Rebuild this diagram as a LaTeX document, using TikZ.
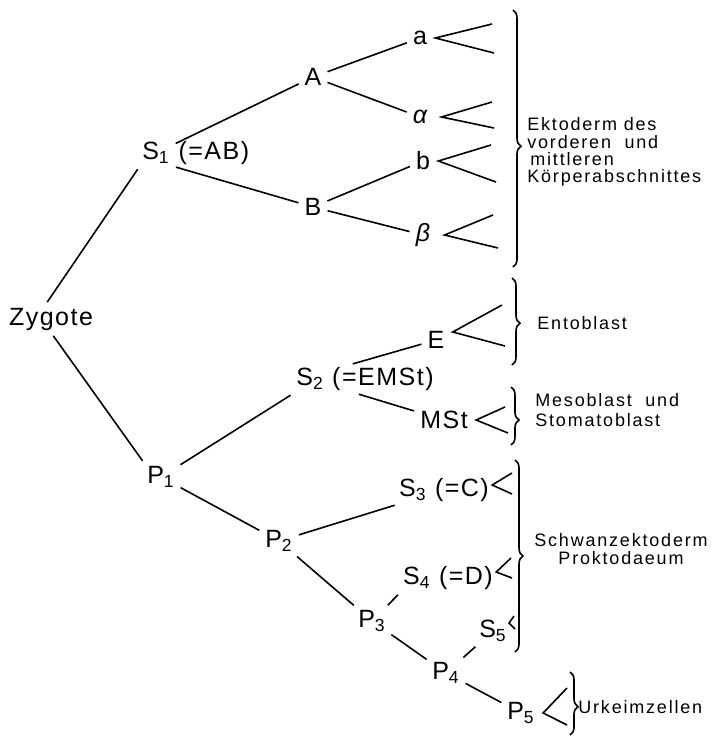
\documentclass[tikz,border=0pt]{standalone}
\usepackage{fontspec}
\usepackage{tikz}
\usetikzlibrary{decorations.pathreplacing}
\newfontfamily\cellfont[LetterSpace=6]{Liberation Sans}
\newfontfamily\notefont[LetterSpace=10]{Liberation Sans}

\begin{document}
\begin{tikzpicture}[x=0.5pt, y=-0.5pt,
	cell/.style={inner sep=1pt, font=\cellfont\fontsize{12.5}{14}\selectfont},
	note/.style={anchor=west, align=left, inner sep=0pt, font=\notefont\fontsize{9}{8.6}\selectfont},
	link/.style={line width=0.8pt, shorten <=2pt, shorten >=2pt},
	fan/.style={line width=0.8pt},
	bracket/.style={line width=0.8pt, decorate, decoration={brace, amplitude=4pt, aspect=#1}},
	bracket/.default=0.5
	]
	\useasboundingbox (0,0) rectangle (712,740);
	
	\node [cell](zyg) at (51,319) {Zygote};
	\node [cell, label={[cell, label distance=2pt]right:(=AB)}](s1) at (156,153) {S\textsubscript{1}};
	\node [cell](nA) at (313,77) {A};
	\node [cell](nB) at (313,207) {B};
	\node [cell](na) at (420,38) {a};
	\node [cell](nal) at (420,117) {\itshape α};
	\node [cell](nb) at (423,161) {b};
	\node [cell](nbe) at (423,235) {\itshape β};
	
	\node [cell](p1) at (161,477) {P\textsubscript{1}};
	\node [cell](s2) at (365,379) {S\textsubscript{2} (=EMSt)};
	\node [cell](nE) at (436,340) {E};
	\node [cell](nM) at (444,420) {MSt};
	\node [cell](p2) at (279,541) {P\textsubscript{2}};
	\node [cell](s3) at (444,490) {S\textsubscript{3} (=C)};
	\node [cell](p3) at (372,621) {P\textsubscript{3}};
	\node [cell](s4) at (448,578) {S\textsubscript{4} (=D)};
	\node [cell](p4) at (446,673) {P\textsubscript{4}};
	\node [cell](s5) at (493,631) {S\textsubscript{5}};
	\node [cell](p5) at (521,713) {P\textsubscript{5}};
	
	\draw[link] ([xshift=-3pt]zyg.north) -- (s1.south west);
	\draw[link] (zyg.south) -- (p1.north west);
	\draw[link] (s1) -- (nA);
	\draw[link] (s1.south east) -- (nB);
	\draw[link] (nA) -- (na);
	\draw[link] (nA) -- (nal);
	\draw[link] (nB) -- (nb);
	\draw[link] (nB) -- (nbe);
	
	\draw[link] (p1) -- (s2.south west);
	\draw[link] ([xshift=-8pt]s2.north) -- (nE);
	\draw[link] ([xshift=-5pt]s2.south) -- (nM);
	\draw[link] (p1) -- (p2);
	\draw[link] (p2) -- (s3);
	\draw[link] (p2) -- (p3);
	\draw[link] (p3) -- (s4.south west);
	\draw[link] (p3) -- (p4);
	\draw[link] (p4) -- (s5);
	\draw[link] (p4) -- (p5);
	
	% fan ends
	\coordinate (fa1) at (492,24);  \coordinate (fa2) at (494,53);
	\coordinate (fal1) at (492,102); \coordinate (fal2) at (494,128);
	\coordinate (fb1) at (491,145);  \coordinate (fb2) at (496,182);
	\coordinate (fbe1) at (493,215); \coordinate (fbe2) at (498,248);
	\coordinate (fE1) at (502,305);  \coordinate (fE2) at (505,346);
	\coordinate (fM1) at (505,407);  \coordinate (fM2) at (508,433);
	\coordinate (fs31) at (512,473); \coordinate (fs32) at (512,494);
	\coordinate (fs41) at (511,558); \coordinate (fs42) at (512,578);
	\coordinate (fs51) at (514,616); \coordinate (fs52) at (515,629);
	\coordinate (fp51) at (567,688); \coordinate (fp52) at (567,725);
	
	\draw[fan] (fa1) -- ([xshift=3pt]na.east) -- (fa2);
	\draw[fan] (fal1) -- ([xshift=6pt]nal.east) -- (fal2);
	\draw[fan] (fb1) -- ([xshift=3pt]nb.east) -- (fb2);
	\draw[fan] (fbe1) -- ([xshift=6pt]nbe.east) -- (fbe2);
	\draw[fan] (fE1) -- ([xshift=3pt, yshift=4pt]nE.east) -- (fE2);
	\draw[fan] (fM1) -- ([xshift=3pt]nM.east) -- (fM2);
	\draw[fan] (fs31) -- ([xshift=0.5pt, yshift=2.5pt]s3.east) -- (fs32);
	\draw[fan] (fs41) -- ([xshift=0.5pt, yshift=3pt]s4.east) -- (fs42);
	\draw[fan] (fs51) -- ([xshift=0pt, yshift=4pt]s5.east) -- (fs52);
	\draw[fan] (fp51) -- ([xshift=3pt]p5.east) -- (fp52);
	
	\draw[bracket=0.53] (513,10) -- (513,267);
	\draw[bracket=0.52] (512,278) -- (512,365);
	\draw[bracket=0.57] (511,387) -- (511,445);
	\draw[bracket] (515,460) -- (515,652);
	\draw[bracket=0.55] (570,672) -- (570,735);
	
	\node [note](ekto) at (527,152) {Ektoderm des\\vorderen~ und\\\,mittleren\\Körperabschnittes};
	\node [note](ento) at (537,323) {Entoblast};
	\node [note, font=\notefont\fontsize{9}{10}\selectfont](meso) at (535,410) {Mesoblast~ und\\Stomatoblast};
	\node [note, anchor=center, align=center](schwanz) at (621,549) {Schwanzektoderm\\Proktodaeum};
	\node [note](urkeim) at (578,707) {Urkeimzellen};
\end{tikzpicture}
\end{document}
